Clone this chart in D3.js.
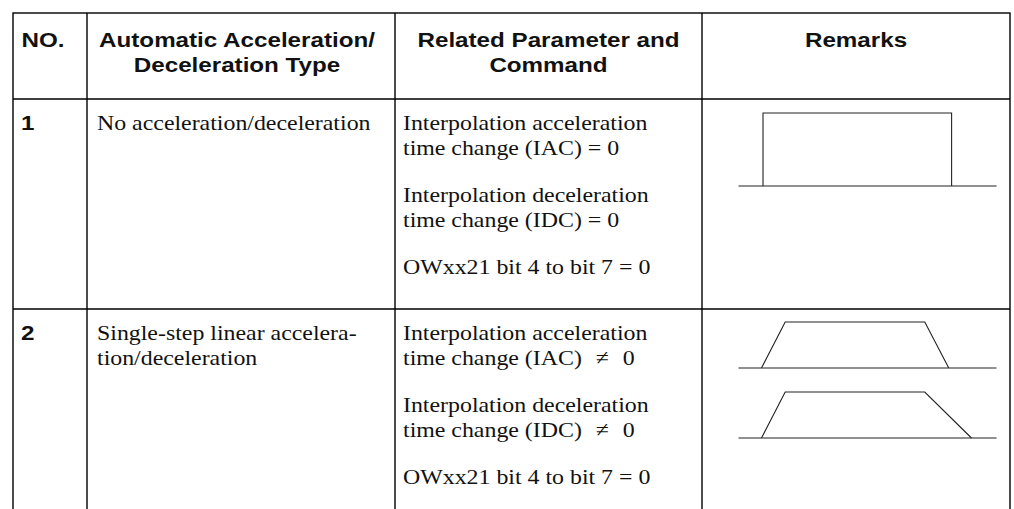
<!DOCTYPE html>
<html><head><meta charset="utf-8">
<script src="https://cdn.jsdelivr.net/npm/d3@7"></script>
<style>html,body{margin:0;padding:0;background:#fff;}svg{display:block;}</style>
</head><body>
<svg id="c" width="1014" height="509"></svg>
<script>
// ---- data ----
const headers = [["NO."], ["Automatic Acceleration/", "Deceleration Type"], ["Related Parameter and", "Command"], ["Remarks"]];
const rowNumbers = ["1", "2"];
const accelTypes = [["No acceleration/deceleration"], ["Single-step linear accelera-", "tion/deceleration"]];
const row1Params = [["Interpolation acceleration", "time change (IAC) = 0"], ["Interpolation deceleration", "time change (IDC) = 0"], ["OWxx21 bit 4 to bit 7 = 0"]];
const row2Params = [["Interpolation acceleration", "time change (IAC) \u2004\u2260 \u20040"], ["Interpolation deceleration", "time change (IDC) \u2004\u2260 \u20040"], ["OWxx21 bit 4 to bit 7 = 0"]];
// speed profiles: [time (% of window), speed (0..1)]
const profileNone = [[9.5, 0], [9.5, 1], [82.6, 1], [82.6, 0]];
const profileLinearEqual = [[8.9, 0], [18.1, 1], [72.2, 1], [81.5, 0]];
const profileLinearLongDecel = [[8.9, 0], [18.1, 1], [72.2, 1], [90.3, 0]];
const timeWindow = [0, 100];

// ---- layout ----
const svg = d3.select("#c");
const colX = [13, 87, 395, 702, 1010];
const rowY = [13, 99, 309, 511];
const stroke = "#000";

const g = svg.append("g");
g.append("rect").attr("x", colX[0]).attr("y", rowY[0]).attr("width", colX[4]-colX[0]).attr("height", rowY[3]-rowY[0])
  .attr("fill", "none").attr("stroke", stroke).attr("stroke-width", 1.4);
colX.slice(1, 4).forEach(x => g.append("line").attr("x1", x).attr("x2", x).attr("y1", rowY[0]).attr("y2", rowY[3]).attr("stroke", stroke).attr("stroke-width", 1.4));
rowY.slice(1, 3).forEach(y => g.append("line").attr("x1", colX[0]).attr("x2", colX[4]).attr("y1", y).attr("y2", y).attr("stroke", stroke).attr("stroke-width", 1.4));

function txt(x, y, s, opts) {
  return g.append("text")
    .attr("transform", `translate(${x},${y}) scale(${opts.sx},1)`)
    .attr("text-anchor", opts.anchor || "start")
    .attr("font-family", opts.family)
    .attr("font-size", opts.size)
    .attr("font-weight", opts.weight || "normal")
    .attr("fill", "#111")
    .text(s);
}
const headFont = {family: "'Liberation Sans', Arial, Helvetica, sans-serif", size: 20.5, sx: 1.18, weight: "bold", anchor: "middle"};
const bodyFont = {family: "'Liberation Serif', 'Times New Roman', serif", size: 22, sx: 1.085};
const numFont = {family: "'Liberation Sans', Arial, Helvetica, sans-serif", size: 20.5, sx: 1.18, weight: "bold"};

const lineGap = 25, blockGap = 47;
headers.forEach((lines, i) => {
  const cx = (colX[i] + colX[i+1]) / 2 - (i === 0 ? 7 : i === 1 ? 4 : 0);
  lines.forEach((l, j) => txt(cx, 47 + j * lineGap, l, headFont));
});

const rowParams = [row1Params, row2Params];
[0, 1].forEach(r => {
  const top = rowY[r+1];
  const base = top + 31;
  txt(21, base, rowNumbers[r], numFont);
  accelTypes[r].forEach((l, j) => txt(97, base + j * lineGap, l, bodyFont));
  let y = base;
  rowParams[r].forEach(block => {
    block.forEach((l, j) => txt(403, y + j * lineGap, l, bodyFont));
    y += (block.length - 1) * lineGap + blockGap;
  });
});

// diagrams
const x = d3.scaleLinear().domain(timeWindow).range([738.5, 996.5]);
function drawProfile(pts, yTop, yBase) {
  const y = d3.scaleLinear().domain([0, 1]).range([yBase, yTop]);
  const line = d3.line().x(d => x(d[0])).y(d => y(d[1]));
  g.append("path").attr("d", line([[timeWindow[0], 0], [timeWindow[1], 0]]))
    .attr("fill", "none").attr("stroke", "#222").attr("stroke-width", 1.1);
  g.append("path").attr("d", line(pts)).attr("fill", "none").attr("stroke", "#222").attr("stroke-width", 1.1);
}
drawProfile(profileNone, 113, 186);
drawProfile(profileLinearEqual, 322, 368);
drawProfile(profileLinearLongDecel, 392, 438);
</script>
</body></html>
